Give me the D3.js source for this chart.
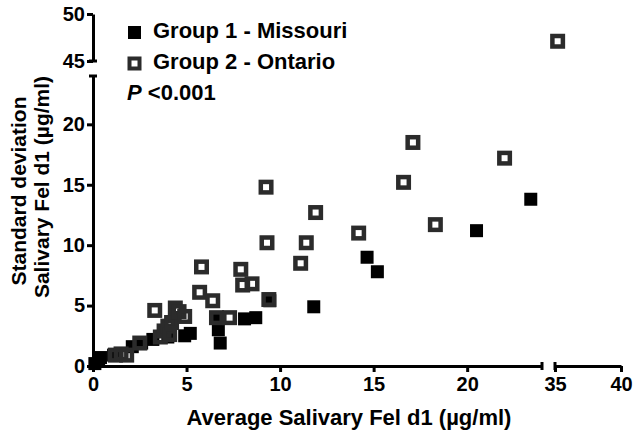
<!DOCTYPE html>
<html>
<head>
<meta charset="utf-8">
<script src="https://cdn.jsdelivr.net/npm/d3@7"></script>
<style>
  body { margin: 0; background: #fff; }
  svg text { font-family: "Liberation Sans", Arial, sans-serif; font-weight: bold; fill: #000; }
</style>
</head>
<body>
<div class="graph"></div>
<script>
// Group 1 - Missouri (filled squares): [average, sd]
var missouri = [
    [0.1, 0.2], [0.3, 0.5], [0.4, 0.7], [1.1, 0.9], [2.1, 1.6], [2.6, 1.9],
    [3.2, 2.2], [4.0, 2.4], [4.9, 2.5], [5.2, 2.7], [6.6, 4.0], [6.7, 3.0],
    [6.8, 1.9], [8.1, 3.9], [8.7, 4.0], [9.45, 5.4], [11.8, 4.9], [14.65, 9.0],
    [15.2, 7.8], [20.5, 11.2], [23.4, 13.8]
];
// Group 2 - Ontario (open squares)
var ontario = [
    [1.2, 0.9], [1.5, 1.0], [1.8, 0.9], [2.5, 1.9], [3.3, 4.6], [3.6, 2.4],
    [3.8, 2.9], [4.0, 3.3], [4.1, 2.6], [4.2, 3.6], [4.4, 4.8], [4.6, 4.5],
    [4.9, 4.1], [5.7, 6.1], [5.8, 8.2], [6.4, 5.4], [6.6, 4.0], [7.3, 4.0],
    [7.9, 8.0], [8.0, 6.7], [8.5, 6.8], [9.25, 14.8], [9.3, 10.2], [9.4, 5.5],
    [11.1, 8.5], [11.4, 10.2], [11.9, 12.7], [14.2, 11.0], [16.6, 15.2],
    [17.1, 18.5], [18.3, 11.7], [22.0, 17.2], [35.2, 47.1]
];
var xTicksLow = [0, 5, 10, 15, 20];
var xTicksHigh = [35, 40];
var yTicksLow = [0, 5, 10, 15, 20];
var yTicksHigh = [45, 50];
var legendLabels = ["Group 1 - Missouri", "Group 2 - Ontario"];

var width = 636, height = 435;
var svg = d3.select(".graph").append("svg")
    .attr("width", width)
    .attr("height", height);

// broken axes: two segments each
var xLow = d3.scaleLinear().domain([0, 24]).range([93, 542]);
var xHigh = d3.scaleLinear().domain([35, 40]).range([555, 621]);
var yLow = d3.scaleLinear().domain([0, 24]).range([366, 76]);
var yHigh = d3.scaleLinear().domain([45, 50]).range([61, 14]);

function px(v) { return v < 30 ? xLow(v) : xHigh(v); }
function py(v) { return v < 30 ? yLow(v) : yHigh(v); }

function styleAxis(g) {
    g.select(".domain").attr("stroke", "#000").attr("stroke-width", 3);
    g.selectAll(".tick line").attr("stroke", "#000").attr("stroke-width", 3);
    g.selectAll(".tick text")
        .attr("font-size", "20px")
        .style("font-family", "Liberation Sans, Arial, sans-serif")
        .style("font-weight", "bold")
        .attr("fill", "#000");
}

var fmt = d3.format("d");

svg.append("g")
    .attr("transform", "translate(0,366)")
    .call(d3.axisBottom(xLow).tickValues(xTicksLow).tickFormat(fmt).tickSize(6).tickSizeOuter(0).tickPadding(5))
    .call(styleAxis);
svg.append("g")
    .attr("transform", "translate(0,366)")
    .call(d3.axisBottom(xHigh).tickValues(xTicksHigh).tickFormat(fmt).tickSize(6).tickSizeOuter(0).tickPadding(5))
    .call(styleAxis);
svg.append("g")
    .attr("transform", "translate(93,0)")
    .call(d3.axisLeft(yLow).tickValues(yTicksLow).tickFormat(fmt).tickSize(6).tickSizeOuter(0).tickPadding(2))
    .call(styleAxis);
svg.append("g")
    .attr("transform", "translate(93,0)")
    .call(d3.axisLeft(yHigh).tickValues(yTicksHigh).tickFormat(fmt).tickSize(6).tickSizeOuter(0).tickPadding(2))
    .call(styleAxis);

// caps at the break ends
var caps = svg.append("g").attr("stroke", "#000").attr("stroke-width", 3);
[xLow(24), xHigh(35)].forEach(function (x) {
    caps.append("line").attr("x1", x).attr("x2", x).attr("y1", 362).attr("y2", 370);
});
[yLow(24), yHigh(45)].forEach(function (y) {
    caps.append("line").attr("x1", 89).attr("x2", 97).attr("y1", y).attr("y2", y);
});

// points
svg.append("g").selectAll("rect")
    .data(missouri)
    .enter().append("rect")
    .attr("x", function (d) { return px(d[0]) - 6.5; })
    .attr("y", function (d) { return py(d[1]) - 6.5; })
    .attr("width", 13)
    .attr("height", 13)
    .attr("fill", "#000");

svg.append("g").selectAll("rect")
    .data(ontario)
    .enter().append("rect")
    .attr("x", function (d) { return px(d[0]) - 5.25; })
    .attr("y", function (d) { return py(d[1]) - 5.25; })
    .attr("width", 10.5)
    .attr("height", 10.5)
    .attr("fill", "none")
    .attr("stroke", "#2b2b2b")
    .attr("stroke-width", 4.5);

// legend
svg.append("rect").attr("x", 128).attr("y", 26).attr("width", 13).attr("height", 13).attr("fill", "#000");
svg.append("rect").attr("x", 129.5).attr("y", 58.5).attr("width", 10).attr("height", 10)
    .attr("fill", "none").attr("stroke", "#2b2b2b").attr("stroke-width", 4);
svg.append("text").attr("x", 153).attr("y", 38).attr("font-size", "22px").text(legendLabels[0]);
svg.append("text").attr("x", 153).attr("y", 69).attr("font-size", "22px").text(legendLabels[1]);
var pt = svg.append("text").attr("x", 127).attr("y", 100).attr("font-size", "22px");
pt.append("tspan").style("font-style", "italic").text("P");
pt.append("tspan").text(" <0.001");

// axis titles
svg.append("text")
    .attr("x", 349).attr("y", 425)
    .attr("text-anchor", "middle")
    .attr("font-size", "22px")
    .text("Average Salivary Fel d1 (\u00b5g/ml)");

var yt = svg.append("text")
    .attr("transform", "translate(0,187) rotate(-90)")
    .attr("text-anchor", "middle")
    .attr("font-size", "21px");
yt.append("tspan").attr("x", -4).attr("y", 26).text("Standard deviation");
yt.append("tspan").attr("x", 0).attr("y", 49).text("Salivary Fel d1 (\u00b5g/ml)");
</script>
</body>
</html>
